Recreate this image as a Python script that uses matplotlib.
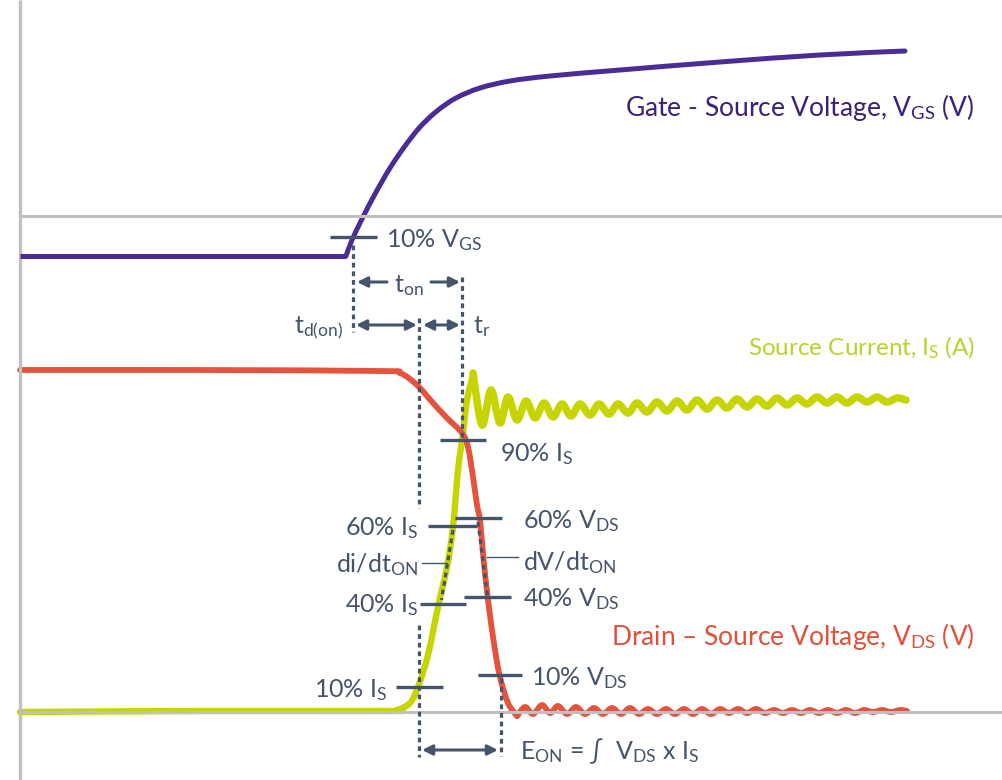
import numpy as np
import matplotlib
matplotlib.use("Agg")
import matplotlib.pyplot as plt
from matplotlib.path import Path
from matplotlib.patches import PathPatch

plt.rcParams['font.family'] = ['Lato', 'DejaVu Sans']
plt.rcParams['mathtext.fontset'] = 'custom'
plt.rcParams['mathtext.rm'] = 'Lato'
plt.rcParams['mathtext.it'] = 'Lato:italic'
plt.rcParams['mathtext.bf'] = 'Lato:bold'

# waveform samples (pixel space, y grows downwards)
vgs_flat_x = [20, 346]
vgs_flat_y = [256, 256]
vgs_x = [346, 352, 362, 375, 390, 405, 420, 437, 456, 480, 510, 550, 620, 720, 820, 905]
vgs_y = [256, 240, 219, 194, 168, 146, 127, 111, 98, 88, 81, 76, 70, 62, 55, 51]

vds_x = [20, 200, 380, 400, 417, 433, 447, 462, 468, 473, 477, 480, 483, 488, 495, 500, 508, 517]
vds_y = [370, 370, 371, 373, 385, 403, 418, 433, 447, 477, 505, 520, 553, 600, 650, 677, 703, 716]
vds_ring_x = [517, 525, 533, 542, 550, 558, 567, 576, 585, 594, 603, 612, 621, 630, 639, 648,
              657, 666, 675, 684, 693, 702, 711, 720, 729, 738, 747, 756, 765, 774, 783, 792,
              801, 810, 819, 828, 837, 846, 855, 864, 873, 882, 891, 900, 907]
vds_ring_y = [716, 707, 714, 705, 713, 706, 714, 707, 714, 708, 714, 708, 714, 708, 714, 709,
              714, 709, 714, 709, 714, 709, 714, 709, 713, 709, 713, 709, 713, 710, 713, 710,
              713, 710, 713, 710, 713, 710, 713, 710, 712, 710, 712, 710, 711]

is_x = [20, 200, 385, 397, 410, 418, 428, 438, 447, 453, 458, 463, 467, 473]
is_y = [712, 711, 711, 710, 703, 687, 655, 607, 567, 527, 470, 433, 400, 375]
is_ring_x = [473, 482, 491, 500, 508, 517, 526, 535, 544, 553, 562, 571, 580, 590, 599, 609,
             618, 628, 637, 647, 657, 667, 677, 687, 697, 707, 717, 727, 737, 747, 757, 767,
             777, 787, 797, 807, 817, 827, 837, 847, 857, 867, 877, 887, 897, 906]
is_ring_y = [373, 425, 390, 423, 397, 420, 401, 418, 403, 417, 404, 416, 404, 415, 404, 414,
             404, 413, 403, 412, 402, 411, 401, 410, 400, 409, 400, 408, 399, 407, 399, 406,
             398, 405, 398, 404, 397, 403, 397, 403, 397, 402, 397, 402, 398, 400]

PURPLE = '#4b2c95'
RED = '#e5533d'
GREEN = '#c6d500'
GRAY = '#c0c0c0'
DARK = '#44546a'


def smooth_path(xs, ys):
    pts = np.column_stack([xs, ys]).astype(float)
    n = len(pts)
    verts = [pts[0]]
    codes = [Path.MOVETO]
    for i in range(n - 1):
        p0 = pts[max(i - 1, 0)]
        p1 = pts[i]
        p2 = pts[i + 1]
        p3 = pts[min(i + 2, n - 1)]
        verts += [p1 + (p2 - p0) / 6, p2 - (p3 - p1) / 6, p2]
        codes += [Path.CURVE4] * 3
    return Path(verts, codes)


def curve(ax, xs, ys, color, lw):
    ax.add_patch(PathPatch(smooth_path(xs, ys), fill=False, edgecolor=color, lw=lw,
                           capstyle='round', joinstyle='round'))


fig = plt.figure(figsize=(10.03, 7.80), dpi=100)
ax = fig.add_axes([0, 0, 1, 1])
ax.set_xlim(0, 1003)
ax.set_ylim(780, 0)
ax.axis('off')

# axes lines
ax.plot([20, 20], [0, 780], color=GRAY, lw=2.4, solid_capstyle='butt')
ax.plot([20, 1003], [216, 216], color=GRAY, lw=2.2)
ax.plot([20, 1003], [712, 712], color=GRAY, lw=2.2)

# waveforms
ax.plot(vgs_flat_x, vgs_flat_y, color=PURPLE, lw=3.6, solid_capstyle='butt')
curve(ax, vgs_x, vgs_y, PURPLE, 3.6)
curve(ax, is_x, is_y, GREEN, 4.6)
curve(ax, is_ring_x, is_ring_y, GREEN, 5.4)
curve(ax, vds_x, vds_y, RED, 4.2)
curve(ax, vds_ring_x, vds_ring_y, RED, 4.2)

# dotted guides
dots = dict(color=DARK, lw=2.3, linestyle=(0, (1.5, 1.2)), dash_capstyle='butt')
ax.plot([353, 353], [245, 332], **dots)
ax.plot([419, 419], [318, 508], **dots)
ax.plot([419, 419], [625, 757], **dots)
ax.plot([462, 462], [277, 438], **dots)
ax.plot([501, 501], [678, 756], **dots)
ax.plot([453, 441.5], [530, 600], **dots)
ax.plot([478, 487.5], [522, 597], **dots)

# level markers
marks = [
    (330, 377, 237),   # 10% VGS
    (440, 486, 440),   # 90% IS
    (428, 477, 526),   # 60% IS
    (455, 502, 518),   # 60% VDS
    (420, 466, 604),   # 40% IS
    (464, 511, 597),   # 40% VDS
    (396, 443, 687),   # 10% IS
    (478, 522, 675),   # 10% VDS
]
for x0, x1, y in marks:
    ax.plot([x0, x1], [y, y], color=DARK, lw=2.4, solid_capstyle='butt')

ax.plot([422, 447], [563, 563], color=DARK, lw=1.0)
ax.plot([487, 518], [557, 557], color=DARK, lw=1.0)

# arrows
arr = dict(color=DARK, lw=2.2, shrinkA=0, shrinkB=0, mutation_scale=15)
ax.annotate('', xy=(357, 282), xytext=(387, 282), arrowprops=dict(arrowstyle='-|>', **arr))
ax.annotate('', xy=(460, 282), xytext=(431, 282), arrowprops=dict(arrowstyle='-|>', **arr))
ax.annotate('', xy=(356, 325), xytext=(417, 325), arrowprops=dict(arrowstyle='<|-|>', **arr))
ax.annotate('', xy=(423, 325), xytext=(460, 325), arrowprops=dict(arrowstyle='<|-|>', **arr))
ax.annotate('', xy=(422, 750), xytext=(498, 750), arrowprops=dict(arrowstyle='<|-|>', **arr))

# labels
fs = 18
ax.text(975, 116, r'Gate - Source Voltage, V$_{\mathrm{GS}}$ (V)', color='#3b1f78',
        fontsize=19, ha='right')
ax.text(975, 355, r'Source Current, I$_{\mathrm{S}}$ (A)', color='#bcd12a',
        fontsize=17.5, ha='right')
ax.text(975, 645, r'Drain – Source Voltage, V$_{\mathrm{DS}}$ (V)', color='#e0503a',
        fontsize=19, ha='right')

ax.text(386, 247, r'10% V$_{\mathrm{GS}}$', color=DARK, fontsize=fs)
ax.text(394, 292, r't$_{\mathrm{on}}$', color=DARK, fontsize=fs)
ax.text(343, 334, r't$_{\mathrm{d(on)}}$', color=DARK, fontsize=fs, ha='right')
ax.text(473, 333, r't$_{\mathrm{r}}$', color=DARK, fontsize=fs)
ax.text(500, 461, r'90% I$_{\mathrm{S}}$', color=DARK, fontsize=fs)
ax.text(523, 528, r'60% V$_{\mathrm{DS}}$', color=DARK, fontsize=fs)
ax.text(418, 535, r'60% I$_{\mathrm{S}}$', color=DARK, fontsize=fs, ha='right')
ax.text(418, 572, r'di/dt$_{\mathrm{ON}}$', color=DARK, fontsize=fs, ha='right')
ax.text(523, 570, r'dV/dt$_{\mathrm{ON}}$', color=DARK, fontsize=fs)
ax.text(418, 612, r'40% I$_{\mathrm{S}}$', color=DARK, fontsize=fs, ha='right')
ax.text(523, 606, r'40% V$_{\mathrm{DS}}$', color=DARK, fontsize=fs)
ax.text(387, 697, r'10% I$_{\mathrm{S}}$', color=DARK, fontsize=fs, ha='right')
ax.text(531, 685, r'10% V$_{\mathrm{DS}}$', color=DARK, fontsize=fs)
ax.text(520, 759, r'E$_{\mathrm{ON}}$ = ∫  V$_{\mathrm{DS}}$ x I$_{\mathrm{S}}$', color=DARK, fontsize=fs)

fig.savefig('out.png', dpi=100)
